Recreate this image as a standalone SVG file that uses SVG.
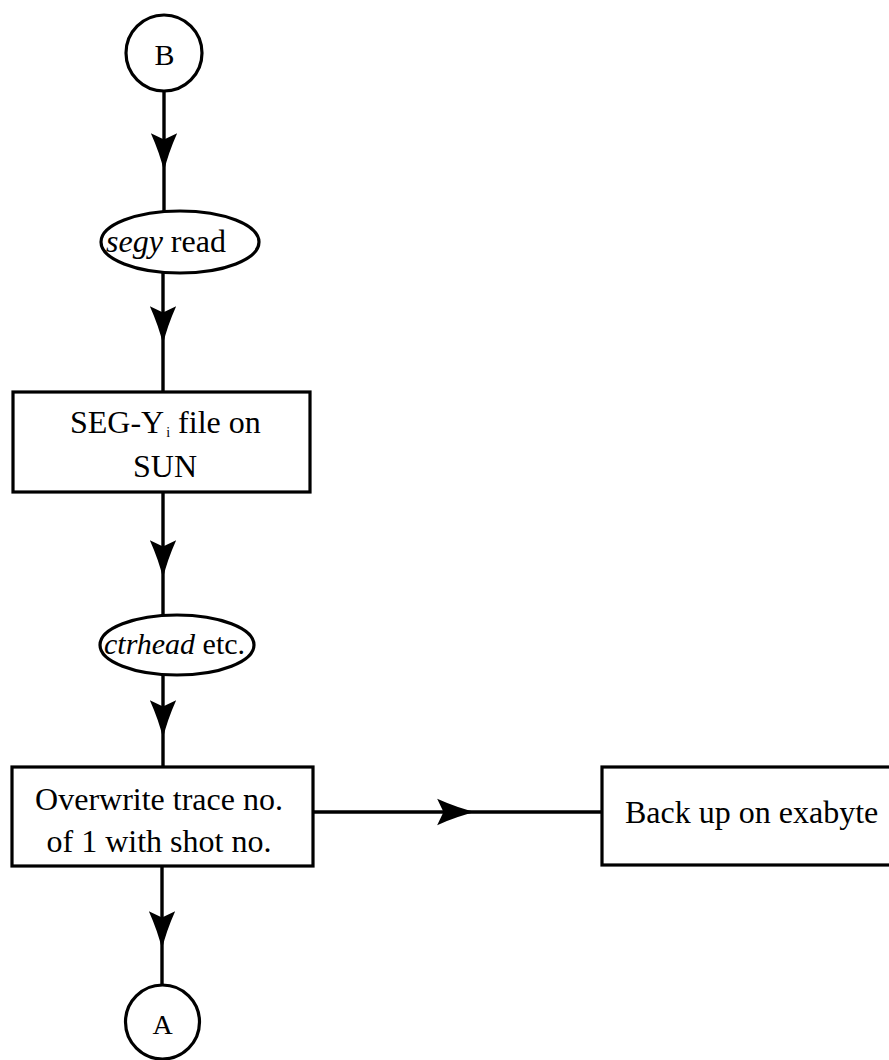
<svg xmlns="http://www.w3.org/2000/svg" width="889" height="1060" viewBox="0 0 889 1060">
  <style>
    .shape { fill: #fff; stroke: #000; stroke-width: 3.2; }
    .wire { fill: none; stroke: #000; stroke-width: 3.4; marker-mid: url(#head); }
    .lbl { font-family: "Liberation Serif", "Times New Roman", serif; font-size: 32px; fill: #000; }
    .it { font-style: italic; }
  </style>
  <defs>
    <!-- barbed arrowhead, tip at the vertex -->
    <marker id="head" markerUnits="userSpaceOnUse" markerWidth="40" markerHeight="30" viewBox="-36 -13 38 26" refX="0" refY="0" orient="auto" overflow="visible">
      <path d="M1,0 Q-16,-4 -35,-12.5 L-29,0 L-35,12.5 Q-16,4 1,0 Z" fill="#000"/>
    </marker>
  </defs>

  <rect width="889" height="1060" fill="#fff"/>

  <g id="connectors">
    <path class="wire" d="M164,91 L164,170 L164,211"/>
    <path class="wire" d="M163,273 L163,343 L163,392"/>
    <path class="wire" d="M163,492 L163,577 L163,615"/>
    <path class="wire" d="M163,675 L163,737 L163,767"/>
    <path class="wire" d="M162,866 L162,948 L162,985"/>
    <path class="wire" d="M313,812 L474,812 L602,812"/>
  </g>

  <g id="node-B">
    <circle class="shape" cx="164" cy="53" r="38"/>
    <text class="lbl" x="164.5" y="65" text-anchor="middle" style="font-size:30px">B</text>
  </g>

  <g id="node-segy-read">
    <ellipse class="shape" cx="180" cy="242" rx="79" ry="31"/>
    <text class="lbl" x="106" y="252"><tspan class="it">segy</tspan> read</text>
  </g>

  <g id="node-segy-file">
    <rect class="shape" x="13" y="392" width="297" height="100"/>
    <text class="lbl" x="70" y="433">SEG-Y<tspan dx="2" dy="4" style="font-size:14px">i</tspan><tspan dy="-4"> file on</tspan></text>
    <text class="lbl" x="165" y="477" text-anchor="middle">SUN</text>
  </g>

  <g id="node-ctrhead">
    <ellipse class="shape" cx="177" cy="645" rx="77" ry="30"/>
    <text class="lbl" x="104" y="654" style="font-size:30px"><tspan class="it">ctrhead</tspan> etc.</text>
  </g>

  <g id="node-overwrite">
    <rect class="shape" x="12" y="767" width="301" height="99"/>
    <text class="lbl" x="159" y="810" text-anchor="middle">Overwrite trace no.</text>
    <text class="lbl" x="159" y="852" text-anchor="middle">of 1 with shot no.</text>
  </g>

  <g id="node-backup">
    <rect class="shape" x="602" y="767" width="300" height="98"/>
    <text class="lbl" x="625" y="823">Back up on exabyte</text>
  </g>

  <g id="node-A">
    <circle class="shape" cx="162.5" cy="1022" r="37"/>
    <text class="lbl" x="162.5" y="1034" text-anchor="middle" style="font-size:28px">A</text>
  </g>
</svg>
